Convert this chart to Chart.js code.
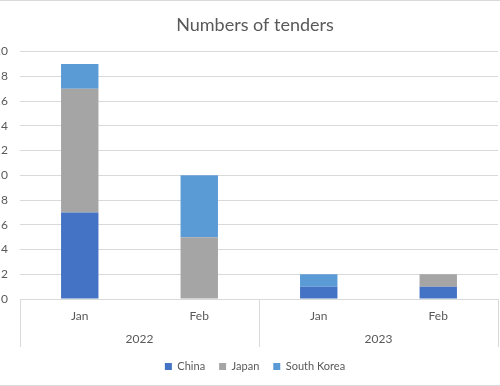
<!DOCTYPE html>
<html lang="en">
<head>
    <meta charset="UTF-8">
    <title>Numbers of tenders</title>
    <style>
        body {
            margin: 0;
            background: white;
            overflow: hidden;
        }
        #frame {
            position: relative;
            width: 500px;
            height: 386px;
            overflow: hidden;
        }
        #chart {
            position: absolute;
            left: 0;
            top: 0;
        }
        .edge {
            position: absolute;
            left: 0;
            width: 500px;
            height: 1px;
            background: #d9d9d9;
        }
    </style>
</head>
<body>
    <div id="frame">
        <canvas id="chart" width="500" height="386"></canvas>
        <div class="edge" style="top:0"></div>
        <div class="edge" style="top:385px"></div>
    </div>

    <script src="https://cdn.jsdelivr.net/npm/chart.js"></script>
    <script>
        const months = ['Jan', 'Feb', 'Jan', 'Feb'];
        const years = ['2022', '2023'];
        const china = [7, 0, 1, 1];
        const japan = [10, 5, 0, 1];
        const southKorea = [2, 5, 1, 0];
        const yMax = 20;
        const yStep = 2;

        const textColor = '#595959';
        const lineColor = '#d9d9d9';

        // boxes round the two label rows, like the spreadsheet's grouped axis
        const groupLines = {
            id: 'groupLines',
            afterLayout(chart) {
                // let the y labels spill past the left edge (the original is cropped there)
                chart.scales.y.left -= 20;
            },
            afterDraw(chart) {
                const x = chart.scales.x;
                const x2 = chart.scales.x2;
                const ctx = chart.ctx;
                const top = x.top;
                const bottom = x2.bottom;
                const spots = [x.left, (x.left + x.right) / 2, x.right];
                ctx.save();
                ctx.strokeStyle = lineColor;
                ctx.lineWidth = 1;
                spots.forEach(px => {
                    const p = Math.round(px) + 0.5;
                    ctx.beginPath();
                    ctx.moveTo(p, top);
                    ctx.lineTo(p, bottom);
                    ctx.stroke();
                });
                ctx.restore();
            }
        };

        Chart.defaults.font.family = 'Lato, "Open Sans", sans-serif';
        Chart.defaults.color = textColor;

        new Chart(document.getElementById('chart'), {
            type: 'bar',
            data: {
                labels: months,
                datasets: [
                    { label: 'China', data: china, backgroundColor: '#4472c4' },
                    { label: 'Japan', data: japan, backgroundColor: '#a5a5a5' },
                    { label: 'South Korea', data: southKorea, backgroundColor: '#5b9bd5' }
                ]
            },
            options: {
                responsive: false,
                animation: false,
                categoryPercentage: 1,
                barPercentage: 0.313,
                layout: {
                    padding: { left: 12, right: 2, top: 0, bottom: 4 }
                },
                plugins: {
                    title: {
                        display: true,
                        text: 'Numbers of tenders',
                        color: textColor,
                        font: { size: 18, weight: 'normal' },
                        padding: { top: 14, bottom: 16 }
                    },
                    legend: {
                        position: 'bottom',
                        labels: {
                            boxWidth: 7,
                            boxHeight: 7,
                            padding: 14,
                            font: { size: 11 },
                            color: textColor
                        }
                    },
                    tooltip: { enabled: false }
                },
                scales: {
                    x: {
                        stacked: true,
                        grid: { display: false, drawTicks: false },
                        border: { color: lineColor },
                        ticks: { padding: 10, font: { size: 12 }, color: textColor },
                        afterFit(scale) { scale.height = 24; }
                    },
                    x2: {
                        type: 'category',
                        labels: years,
                        position: 'bottom',
                        offset: true,
                        grid: { display: false, drawTicks: false },
                        border: { display: false },
                        ticks: { padding: 9, font: { size: 12 }, color: textColor },
                        afterFit(scale) { scale.height = 24; }
                    },
                    y: {
                        stacked: true,
                        min: 0,
                        max: yMax,
                        ticks: { stepSize: yStep, padding: 12, font: { size: 12 }, color: textColor },
                        grid: { color: lineColor, drawTicks: false },
                        border: { display: false },
                        afterFit(scale) { scale.width = 8; }
                    }
                }
            },
            plugins: [groupLines]
        });
    </script>
</body>
</html>
